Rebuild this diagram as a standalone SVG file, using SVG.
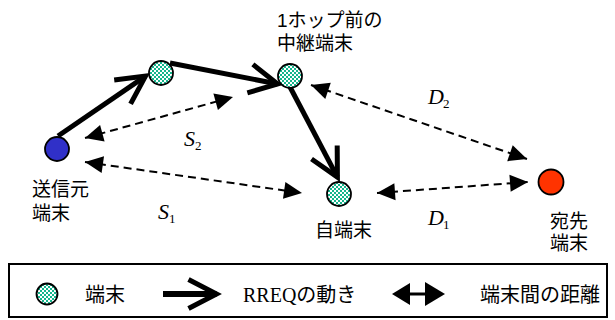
<svg xmlns="http://www.w3.org/2000/svg" width="615" height="320" viewBox="0 0 615 320">
<defs>
<pattern id="chk" width="4" height="4" patternUnits="userSpaceOnUse">
<rect width="4" height="4" fill="#14b58c"/>
<rect width="2" height="2" fill="#ffffff"/>
<rect x="2" y="2" width="2" height="2" fill="#ffffff"/>
</pattern>
<marker id="chev" markerUnits="userSpaceOnUse" markerWidth="60" markerHeight="60" viewBox="-40 -30 60 60" refX="0" refY="0" orient="auto" overflow="visible">
<path d="M-28,-14.5 L0,0 L-28,14.5" fill="none" stroke="#000" stroke-width="5" stroke-linejoin="miter"/>
</marker>
<marker id="tri" markerUnits="userSpaceOnUse" markerWidth="40" markerHeight="40" viewBox="-30 -20 40 40" refX="0" refY="0" orient="auto-start-reverse" overflow="visible">
<path d="M0,0 L-18,-8.5 L-18,8.5 Z" fill="#000"/>
</marker>
</defs>
<style>
.node{stroke:#000;stroke-width:1.8}
.term{fill:url(#chk)}
.lbl{font-family:"Liberation Sans","Noto Sans CJK JP",sans-serif;font-size:19px;fill:#000}
.it{font-family:"Liberation Serif",serif;font-style:italic;font-size:22px;fill:#000}
.sub{font-family:"Liberation Serif",serif;font-size:13px;fill:#000}
.thick{stroke:#000;stroke-width:5;fill:none;marker-end:url(#chev)}
.dash{stroke:#000;stroke-width:2;fill:none;stroke-dasharray:8 5;marker-start:url(#tri);marker-end:url(#tri)}
.leg{font-family:"Noto Sans CJK JP",sans-serif;font-size:20px;fill:#000}
</style>

<g id="connectors">
<line class="thick" x1="58" y1="136" x2="145.5" y2="76.1"/>
<line class="thick" x1="170" y1="63" x2="277.6" y2="84"/>
<line class="thick" x1="290" y1="87" x2="337.4" y2="177.1"/>
<line class="dash" x1="85" y1="138" x2="233" y2="97"/>
<line class="dash" x1="85" y1="162" x2="302" y2="193"/>
<line class="dash" x1="311" y1="85" x2="527" y2="159"/>
<line class="dash" x1="377" y1="193" x2="528" y2="182"/>
</g>

<g id="source">
<circle class="node" cx="57" cy="149" r="12" fill="#3030c8"/>
<text class="lbl" x="32" y="196">送信元</text>
<text class="lbl" x="32" y="220">端末</text>
</g>
<g id="hop1">
<circle class="node term" cx="161" cy="73" r="12"/>
</g>
<g id="relay">
<circle class="node term" cx="290" cy="76" r="12"/>
<text class="lbl" x="277" y="27">1ホップ前の</text>
<text class="lbl" x="277" y="50">中継端末</text>
</g>
<g id="self">
<circle class="node term" cx="339" cy="194" r="12"/>
<text class="lbl" x="315" y="237">自端末</text>
</g>
<g id="dest">
<circle class="node" cx="551" cy="182" r="12.5" fill="#ff3300"/>
<text class="lbl" x="550" y="228">宛先</text>
<text class="lbl" x="550" y="250">端末</text>
</g>

<g id="distance-labels">
<text class="it" x="184" y="146">S</text><text class="sub" x="195" y="150">2</text>
<text class="it" x="158" y="219">S</text><text class="sub" x="169" y="223">1</text>
<text class="it" x="428" y="104">D</text><text class="sub" x="443" y="108">2</text>
<text class="it" x="428" y="225">D</text><text class="sub" x="443" y="229">1</text>
</g>

<g id="legend">
<rect x="9" y="264" width="598" height="53" fill="none" stroke="#000" stroke-width="2"/>
<circle class="node term" cx="47" cy="294" r="10.5"/>
<text class="leg" x="85" y="302">端末</text>
<line x1="163" y1="294" x2="216.5" y2="294" stroke="#000" stroke-width="6" marker-end="url(#chev)"/>
<text x="243" y="302" style="font-family:'Liberation Serif','Noto Sans CJK JP',serif;font-size:20px">RREQ<tspan style="font-family:'Noto Sans CJK JP',sans-serif">の動き</tspan></text>
<polygon points="392,294 410,283 410,305" fill="#000"/>
<line x1="409" y1="294" x2="426" y2="294" stroke="#000" stroke-width="3"/>
<polygon points="445,294 425,282 425,306" fill="#000"/>
<text class="leg" x="480" y="302">端末間の距離</text>
</g>
</svg>
